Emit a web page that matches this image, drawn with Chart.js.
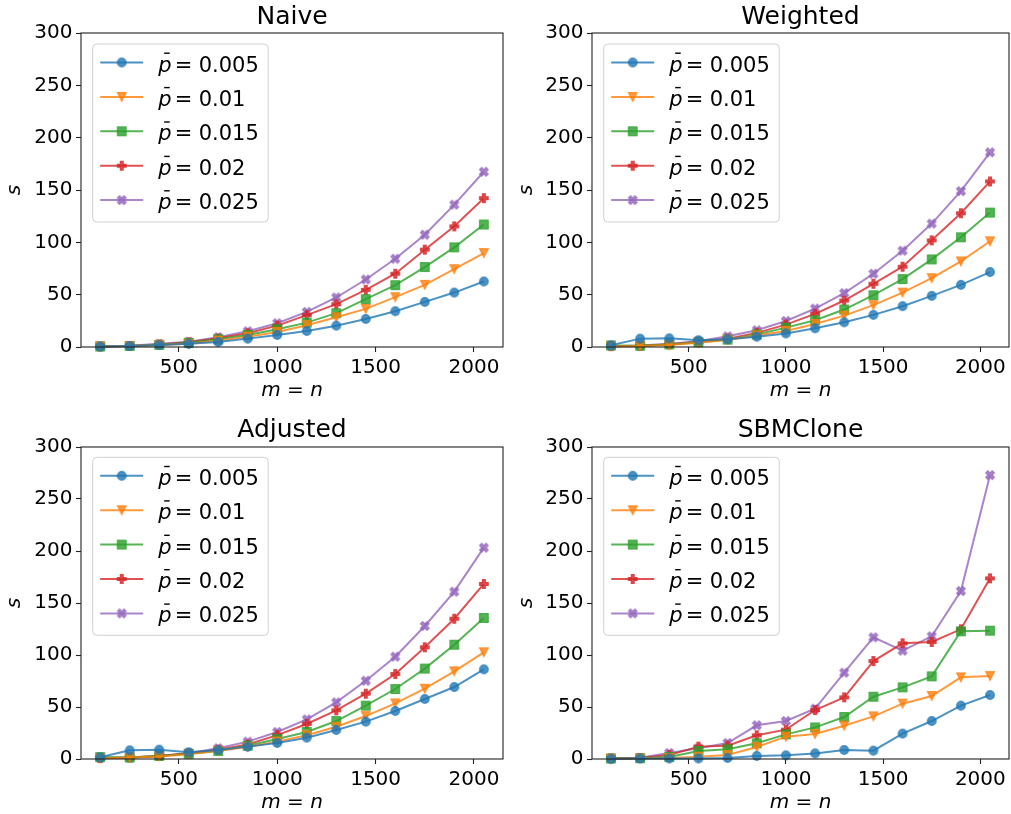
<!DOCTYPE html>
<html>
<head>
<meta charset="utf-8">
<script src="https://cdn.jsdelivr.net/npm/chart.js@4.4.1/dist/chart.umd.min.js"></script>
<style>
  body { margin: 0; background: #fff; }
  #fig { position: relative; width: 1011px; height: 814px; }
  #fig canvas { position: absolute; }
</style>
</head>
<body>
<div id="fig">
  <canvas id="naive" width="505" height="400" style="left:0;top:0"></canvas>
  <canvas id="weighted" width="506" height="400" style="left:505px;top:0"></canvas>
  <canvas id="adjusted" width="505" height="400" style="left:0;top:412px"></canvas>
  <canvas id="sbmclone" width="506" height="400" style="left:505px;top:412px"></canvas>
</div>
<script>
// matrix size m = n on the x axis
const sizes = [100, 250, 400, 550, 700, 850, 1000, 1150, 1300, 1450, 1600, 1750, 1900, 2050];
const densities = ['0.005', '0.01', '0.015', '0.02', '0.025'];
const xTicks = [500, 1000, 1500, 2000];
const yTicks = [0, 50, 100, 150, 200, 250, 300];

// Naive
const naiveP005 = [0.5, 1, 2, 3, 4.8, 8, 11.5, 15.3, 20.4, 26.8, 34.2, 43.1, 52, 62.6];
const naiveP01  = [0.5, 1, 2, 3, 6, 9.9, 14.4, 20.8, 28.4, 36.4, 47.6, 59.4, 74.4, 89.8];
const naiveP015 = [0.5, 1, 2, 4, 7.3, 11.5, 17, 23.3, 32.3, 45.7, 59.1, 76.4, 95.2, 117];
const naiveP02  = [0.5, 1, 2.5, 4.5, 8.3, 13.1, 20.4, 30.4, 40.9, 54.6, 70, 93, 115.3, 142.2];
const naiveP025 = [0.6, 1.2, 3, 5, 9.3, 15, 22.7, 33.5, 47.3, 64.5, 84.3, 107.3, 136, 167.4];

// Weighted
const weightedP005 = [1.6, 8, 8.3, 6.4, 7.5, 9.9, 13, 17.9, 23.6, 30.7, 39, 48.9, 59.4, 71.6];
const weightedP01  = [0.5, 1, 2, 4, 7, 11, 15.3, 22, 30, 40, 52, 65.8, 81.8, 101];
const weightedP015 = [1.5, 1.2, 2.5, 4.5, 7, 12, 18.5, 25.5, 35.8, 49.5, 64.9, 83.7, 104.8, 128.4];
const weightedP02  = [1, 1.2, 2.5, 5, 8, 13.5, 21.4, 31.6, 44.4, 60.4, 76.7, 101.9, 127.8, 158.2];
const weightedP025 = [0.8, 1.5, 3, 5.5, 10.2, 16, 24.9, 36.7, 51.5, 70, 92, 117.9, 148.9, 186];

// Adjusted
const adjustedP005 = [1.6, 8.3, 9, 6.4, 8.6, 11.9, 15.4, 20.5, 27.9, 35.9, 46.2, 57.7, 69.2, 86.2];
const adjustedP01  = [0.5, 1.5, 2.5, 4.5, 8, 11.5, 16.7, 22.8, 31, 41.3, 53.5, 67.6, 84.3, 102.6];
const adjustedP015 = [1.9, 1.5, 3, 5, 7.7, 12.8, 19.2, 26, 36.5, 51.3, 67.3, 86.9, 109.9, 135.6];
const adjustedP02  = [1, 1.5, 3, 5.5, 9, 14, 23, 33.7, 46.8, 62.8, 81.7, 107.4, 134.9, 168.3];
const adjustedP025 = [0.8, 1.5, 3, 5.5, 10.3, 16.7, 26, 38.1, 54.5, 75.3, 98.4, 127.9, 160.9, 203.2];

// SBMClone
const sbmP005 = [0.3, 0.5, 0.5, 0.5, 1, 2.9, 3.5, 5.4, 8.7, 8, 24.4, 36.5, 51.3, 61.5];
const sbmP01  = [0.3, 0.5, 1, 2.2, 3.8, 11.5, 21.5, 24, 32, 41, 53.2, 60.6, 78.5, 79.8];
const sbmP015 = [0.5, 0.8, 2, 7.7, 9.3, 15.1, 23.7, 30.4, 40.4, 59.9, 68.9, 79.5, 122.8, 123.4];
const sbmP02  = [0.5, 1, 3.8, 11.9, 12.8, 22.8, 28.2, 47.1, 59.3, 94.2, 111.2, 112.5, 124.7, 173.7];
const sbmP025 = [0.8, 1.2, 5.8, 10.3, 15.4, 32.4, 36.5, 48.4, 83, 117, 104.2, 118, 161.5, 273];

const colors = ['31,119,180', '255,127,14', '44,160,44', '214,39,40', '148,103,189'];
const shapes = ['o', 'v', 's', 'P', 'X'];

const FONT = '"DejaVu Sans", sans-serif';
Chart.defaults.font.family = FONT;
Chart.defaults.color = '#000';

// matplotlib-like filled markers, drawn once on small canvases
function makeMarker(shape, rgb) {
  const r = 4.3, dim = 14;
  const c = document.createElement('canvas');
  c.width = c.height = dim;
  const g = c.getContext('2d');
  g.translate(dim / 2, dim / 2);
  g.beginPath();
  let pts = null;
  if (shape === 'o') g.arc(0, 0, r, 0, Math.PI * 2);
  else if (shape === 'v') pts = [[0, 1], [1, -1], [-1, -1]];
  else if (shape === 's') pts = [[-1, -1], [1, -1], [1, 1], [-1, 1]];
  else if (shape === 'P') pts = [[-1, -3], [1, -3], [1, -1], [3, -1], [3, 1], [1, 1], [1, 3], [-1, 3], [-1, 1], [-3, 1], [-3, -1], [-1, -1]].map(p => [p[0] / 3, p[1] / 3]);
  else if (shape === 'X') pts = [[-1, -2], [0, -1], [1, -2], [2, -1], [1, 0], [2, 1], [1, 2], [0, 1], [-1, 2], [-2, 1], [-1, 0], [-2, -1]].map(p => [p[0] / 2, p[1] / 2]);
  if (pts) {
    pts.forEach((p, i) => i ? g.lineTo(p[0] * r, p[1] * r) : g.moveTo(p[0] * r, p[1] * r));
    g.closePath();
  }
  g.fillStyle = 'rgba(' + rgb + ',0.8)';
  g.fill();
  g.lineWidth = 1.2;
  g.strokeStyle = 'rgba(' + rgb + ',0.8)';
  g.stroke();
  return c;
}
const markers = shapes.map((s, i) => makeMarker(s, colors[i]));

// black frame on all four sides
const framePlugin = {
  id: 'frame',
  afterDatasetsDraw(chart) {
    const { ctx, chartArea: a } = chart;
    ctx.save();
    ctx.strokeStyle = '#222';
    ctx.lineWidth = 1.1;
    ctx.strokeRect(a.left, a.top, a.right - a.left, a.bottom - a.top);
    ctx.restore();
  }
};

// legend inside the axes, upper left
const innerLegend = {
  id: 'innerLegend',
  afterDraw(chart, args, opts) {
    const { ctx, chartArea: a } = chart;
    const bx = a.left + 11.7, by = a.top + opts.top, bw = 175.5, bh = 178, rad = 4;
    ctx.save();
    ctx.beginPath();
    ctx.moveTo(bx + rad, by);
    ctx.arcTo(bx + bw, by, bx + bw, by + bh, rad);
    ctx.arcTo(bx + bw, by + bh, bx, by + bh, rad);
    ctx.arcTo(bx, by + bh, bx, by, rad);
    ctx.arcTo(bx, by, bx + bw, by, rad);
    ctx.closePath();
    ctx.fillStyle = 'rgba(255,255,255,0.8)';
    ctx.fill();
    ctx.strokeStyle = '#d0d0d0';
    ctx.lineWidth = 1;
    ctx.stroke();

    chart.data.datasets.forEach((ds, i) => {
      const cy = by + 18.5 + i * 34.4;
      ctx.beginPath();
      ctx.moveTo(bx + 7.5, cy);
      ctx.lineTo(bx + 50.5, cy);
      ctx.strokeStyle = ds.borderColor;
      ctx.lineWidth = 2;
      ctx.stroke();
      const m = ds.pointStyle;
      ctx.drawImage(m, bx + 29 - m.width / 2, cy - m.height / 2);

      const x0 = bx + 67, base = cy + 9;
      ctx.fillStyle = '#000';
      ctx.textBaseline = 'alphabetic';
      ctx.textAlign = 'left';
      ctx.font = 'italic 21px ' + FONT;
      ctx.fillText('p', x0 - 1.5, base);
      ctx.fillRect(x0 + 4.5, cy - 10, 5.5, 1.4);
      ctx.font = '21px ' + FONT;
      ctx.fillText('=', x0 + 15, base);
      ctx.fillText(ds.label, x0 + 39, base);
    });
    ctx.restore();
  }
};

const panels = [
  { id: 'naive', title: 'Naive', series: [naiveP005, naiveP01, naiveP015, naiveP02, naiveP025],
    areaLeft: 81, titlePad: { top: 5, bottom: 3 }, sPad: 5, legendTop: 11 },
  { id: 'weighted', title: 'Weighted', series: [weightedP005, weightedP01, weightedP015, weightedP02, weightedP025],
    areaLeft: 87, titlePad: { top: 5, bottom: 3 }, sPad: 12, legendTop: 11 },
  { id: 'adjusted', title: 'Adjusted', series: [adjustedP005, adjustedP01, adjustedP015, adjustedP02, adjustedP025],
    areaLeft: 81, titlePad: { top: 5.5, bottom: 4.5 }, sPad: 5, legendTop: 10.3 },
  { id: 'sbmclone', title: 'SBMClone', series: [sbmP005, sbmP01, sbmP015, sbmP02, sbmP025],
    areaLeft: 87, titlePad: { top: 5.5, bottom: 4.5 }, sPad: 12, legendTop: 10.3 }
];

panels.forEach(p => {
  const datasets = p.series.map((vals, i) => ({
    label: densities[i],
    data: sizes.map((x, j) => ({ x: x, y: vals[j] })),
    borderColor: 'rgba(' + colors[i] + ',0.8)',
    backgroundColor: 'rgba(' + colors[i] + ',0.8)',
    borderWidth: 2,
    pointStyle: markers[i],
    pointRadius: 4,
    tension: 0,
    clip: false
  }));

  new Chart(document.getElementById(p.id), {
    type: 'line',
    data: { datasets: datasets },
    options: {
      responsive: false,
      animation: false,
      events: [],
      layout: { autoPadding: false, padding: { left: 0, right: 2, top: 0, bottom: 0 } },
      scales: {
        x: {
          type: 'linear',
          min: 2.5,
          max: 2147.5,
          afterBuildTicks: s => { s.ticks = xTicks.map(v => ({ value: v })); },
          afterFit: s => { s.height = 53; s.paddingLeft = 0; s.paddingRight = 0; },
          ticks: { font: { size: 20 }, padding: 4, maxRotation: 0, autoSkip: false, callback: v => String(v) },
          grid: { display: true, drawOnChartArea: false, drawTicks: true, tickLength: 5, tickColor: '#222', tickWidth: 1.1 },
          border: { display: false },
          title: { display: true, text: 'm = n', font: { size: 20, style: 'italic', lineHeight: 1 }, padding: { top: 0, bottom: -1 } }
        },
        y: {
          min: 0,
          max: 300,
          afterBuildTicks: s => { s.ticks = yTicks.map(v => ({ value: v })); },
          afterFit: s => { s.width = p.areaLeft; },
          ticks: { font: { size: 20 }, padding: 3.5, callback: v => String(v) },
          grid: { display: true, drawOnChartArea: false, drawTicks: true, tickLength: 5, tickColor: '#222', tickWidth: 1.1 },
          border: { display: false },
          title: { display: true, text: 's', font: { size: 20, style: 'italic', lineHeight: 1 }, padding: { top: p.sPad, bottom: 0 } }
        }
      },
      plugins: {
        legend: { display: false },
        tooltip: { enabled: false },
        title: {
          display: true,
          text: p.title,
          fullSize: false,
          font: { size: 25, weight: 'normal', lineHeight: 1 },
          padding: p.titlePad
        },
        innerLegend: { top: p.legendTop }
      }
    },
    plugins: [framePlugin, innerLegend]
  });
});
</script>
</body>
</html>
